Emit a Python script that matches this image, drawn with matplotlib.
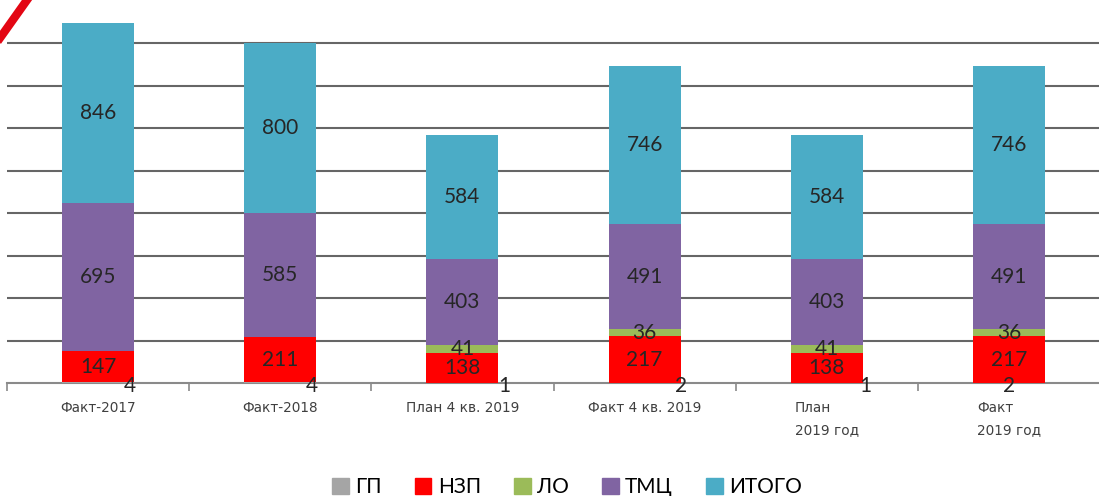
import matplotlib
matplotlib.use("Agg")
import matplotlib.pyplot as plt
import numpy as np
from matplotlib.lines import Line2D

categories = ["Факт-2017", "Факт-2018", "План 4 кв. 2019", "Факт 4 кв. 2019", "План\n2019 год", "Факт\n2019 год"]
series_names = ["ГП", "НЗП", "ЛО", "ТМЦ", "ИТОГО"]
gp = [4, 4, 1, 2, 1, 2]
nzp = [147, 211, 138, 217, 138, 217]
lo = [0, 0, 41, 36, 41, 36]
tmc = [695, 585, 403, 491, 403, 491]
itogo = [846, 800, 584, 746, 584, 746]

colors = ["#a5a5a5", "#ff0000", "#9bbb59", "#8064a2", "#4bacc6"]
gp_label_dx = [0.176, 0.176, 0.23, 0.2, 0.21, 0.0]

plt.rcParams['font.family'] = ['Lato', 'DejaVu Sans']

W, H = 1099, 496
fig = plt.figure(figsize=(W / 100, H / 100), dpi=100)
ax_left = 7 / W
ax_right = 1100 / W
ax_bottom = (H - 383) / H
ax_top = 1.0
ax = fig.add_axes([ax_left, ax_bottom, ax_right - ax_left, ax_top - ax_bottom])

x = np.arange(len(categories))
width = 0.395
data = [gp, nzp, lo, tmc, itogo]
bottom = np.zeros(len(categories))
for name, vals, col in zip(series_names, data, colors):
    ax.bar(x, vals, width, bottom=bottom, color=col, label=name, zorder=3)
    vals = np.array(vals, dtype=float)
    if name == "ГП":
        for i, v in enumerate(vals):
            ax.text(x[i] + gp_label_dx[i], -12, f"{int(v)}", ha="center", va="center",
                    fontsize=15, color="#262626", zorder=5, clip_on=False)
    else:
        for i, v in enumerate(vals):
            if v > 0:
                ax.text(x[i], bottom[i] + v / 2, f"{int(v)}", ha="center", va="center",
                        fontsize=15, color="#262626", zorder=5)
    bottom += vals

ymax = 383 / 42.5 * 200
ax.set_ylim(0, ymax)
ax.set_xlim(-0.5, len(categories) - 0.5)
ax.set_yticks(np.arange(200, 1601, 200))
ax.yaxis.grid(True, color="#666666", linewidth=1.5, zorder=0)
ax.tick_params(axis="y", left=False, labelleft=False)
for s in ["top", "right", "left"]:
    ax.spines[s].set_visible(False)
ax.spines["bottom"].set_color("#8a8a8a")
ax.spines["bottom"].set_linewidth(1.5)

ax.set_xticks(np.arange(-0.5, len(categories) + 0.5, 1.0))
ax.set_xticklabels([])
ax.tick_params(axis="x", length=6, width=1.2, color="#8a8a8a", direction="out")
for i, c in enumerate(categories):
    ax.text(x[i], -85, c, ha="center", va="top", multialignment="left",
            fontsize=9.8, color="#404040", linespacing=1.75,
            family=["DejaVu Sans"], clip_on=False)

handles = [plt.Rectangle((0, 0), 1, 1, color=c) for c in colors]
fig.legend(handles, series_names, loc="center", bbox_to_anchor=(567 / W, 1 - 487 / H),
           ncol=5, frameon=False, fontsize=15, handlelength=0.8, handleheight=0.8,
           handletextpad=0.3, columnspacing=1.6)

fig.add_artist(Line2D([0, 27 / W], [1 - 38 / H, 1.0], color="#e30613", linewidth=6,
                      transform=fig.transFigure))

fig.savefig("out.png", dpi=100)
